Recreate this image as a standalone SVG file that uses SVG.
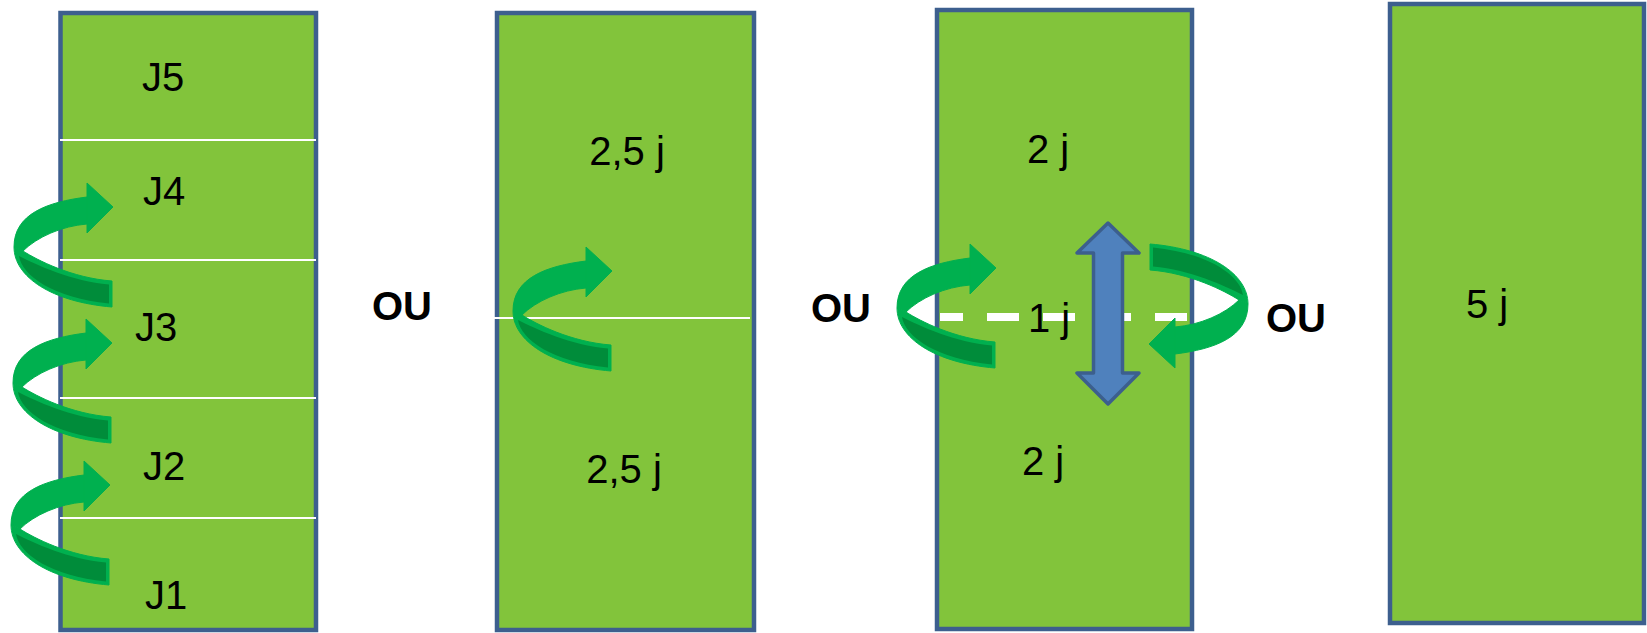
<svg xmlns="http://www.w3.org/2000/svg" xmlns:xlink="http://www.w3.org/1999/xlink" width="1647" height="633" viewBox="0 0 1647 633">
  <style>
    .panel { fill: #82C43B; stroke: #3D5F8E; stroke-width: 4.5; }
    .sep { stroke: #FFFFFF; stroke-width: 1.8; }
    .lbl { font-family: "Liberation Sans", Arial, sans-serif; font-size: 40px; fill: #000000; text-anchor: middle; }
    .ou { font-family: "Liberation Sans", Arial, sans-serif; font-size: 40px; font-weight: bold; fill: #000000; text-anchor: middle; }
    .front { fill: #00B04F; stroke: #00B04F; stroke-width: 1; stroke-linejoin: round; }
    .dark { fill: #008C3A; }
    .dbl { fill: #4F81BD; stroke: #3C5F8D; stroke-width: 3.5; stroke-linejoin: round; }
    .dash { stroke: #FFFFFF; stroke-width: 8; stroke-dasharray: 32 24; stroke-dashoffset: 9; }
  </style>
  <defs>
    <g id="turn">
      <path class="front" d="M0,29 C-40,26 -75,8 -89,-1 L-98,-5 C-98,25 -60,50 0,55 Z"/>
      <path class="dark" d="M-3,32.5 C-40,29.5 -75,13 -93,4 C-90,24 -58,46 -3,51.5 Z"/>
      <path class="front" d="M-25,-55 C-65,-50 -98,-38 -98,-5 L-89,-1 C-75,-15 -50,-26 -25,-28 Z"/>
      <polygon class="front" points="-25,-69 1,-45 -25,-19"/>
    </g>
  </defs>

  <g id="panel1">
    <rect class="panel" x="60.5" y="13" width="255.5" height="617"/>
    <line class="sep" x1="60" y1="140" x2="316" y2="140"/>
    <line class="sep" x1="60" y1="260" x2="316" y2="260"/>
    <line class="sep" x1="60" y1="398" x2="316" y2="398"/>
    <line class="sep" x1="60" y1="518" x2="316" y2="518"/>
    <text class="lbl" x="163" y="91">J5</text>
    <text class="lbl" x="164" y="205">J4</text>
    <text class="lbl" x="156" y="341">J3</text>
    <text class="lbl" x="164" y="480">J2</text>
    <text class="lbl" x="166" y="609">J1</text>
  </g>

  <g id="panel2">
    <rect class="panel" x="497" y="13" width="257" height="617"/>
    <line class="sep" x1="494" y1="318" x2="750" y2="318"/>
    <text class="lbl" x="627" y="165">2,5 j</text>
    <text class="lbl" x="624" y="483">2,5 j</text>
  </g>

  <g id="panel3">
    <rect class="panel" x="937" y="10" width="255" height="619"/>
    <line class="dash" x1="940" y1="317" x2="1187" y2="317"/>
    <text class="lbl" x="1048" y="163">2 j</text>
    <text class="lbl" x="1049" y="332">1 j</text>
    <text class="lbl" x="1043" y="475">2 j</text>
  </g>

  <g id="panel4">
    <rect class="panel" x="1390" y="4" width="254" height="619"/>
    <text class="lbl" x="1487" y="318">5 j</text>
  </g>

  <g id="or-labels">
    <text class="ou" x="402" y="320">OU</text>
    <text class="ou" x="841" y="322">OU</text>
    <text class="ou" x="1296" y="332">OU</text>
  </g>

  <g id="connectors">
    <use xlink:href="#turn" transform="translate(112,252)"/>
    <use xlink:href="#turn" transform="translate(111,388)"/>
    <use xlink:href="#turn" transform="translate(109,530)"/>
    <use xlink:href="#turn" transform="translate(611,316)"/>
    <use xlink:href="#turn" transform="translate(995,313)"/>
    <use xlink:href="#turn" transform="translate(1150,299) rotate(180)"/>
    <path class="dbl" d="M1108,223 L1139,253 L1122.5,253 L1122.5,373 L1139,373 L1108,404 L1077,373 L1093.5,373 L1093.5,253 L1077,253 Z"/>
  </g>
</svg>
